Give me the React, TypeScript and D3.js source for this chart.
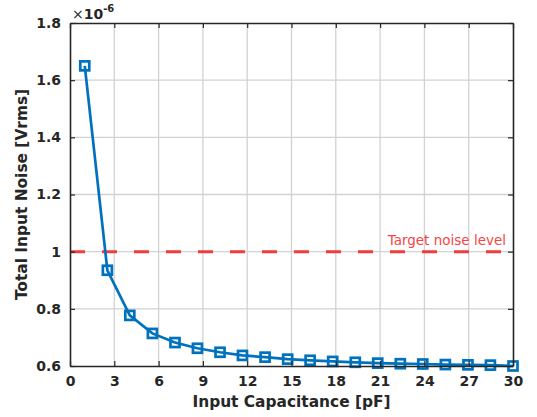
import React, { useEffect, useRef } from "react";
import * as d3 from "d3";

// input capacitance sweep [pF] and measured total input noise [x1e-6 Vrms]
const capacitance = [
  1, 2.53, 4.05, 5.58, 7.11, 8.63, 10.16, 11.68, 13.21, 14.74, 16.26, 17.79,
  19.32, 20.84, 22.37, 23.89, 25.42, 26.95, 28.47, 30,
];
const noise = [
  1.65, 0.935, 0.777, 0.714, 0.682, 0.662, 0.648, 0.637, 0.631, 0.624, 0.62,
  0.616, 0.613, 0.61, 0.608, 0.607, 0.605, 0.604, 0.603, 0.6,
];
const xTicks = [0, 3, 6, 9, 12, 15, 18, 21, 24, 27, 30];
const yTicks = [0.6, 0.8, 1, 1.2, 1.4, 1.6, 1.8];
const targetLevel = 1;
const targetLabel = "Target noise level";

const W = 537;
const H = 417;
const margin = { left: 70, top: 23, right: 24, bottom: 51 };

const App = () => {
  const ref = useRef<SVGSVGElement>(null);

  useEffect(() => {
    const svg = d3.select(ref.current);
    svg.selectAll("*").remove();

    const iw = W - margin.left - margin.right;
    const ih = H - margin.top - margin.bottom;
    const x = d3.scaleLinear().domain([0, 30]).range([0, iw]);
    const y = d3.scaleLinear().domain([0.6, 1.8]).range([ih, 0]);
    const font = "DejaVu Sans, sans-serif";
    const axisColor = "#262626";

    const g = svg
      .append("g")
      .attr("transform", `translate(${margin.left},${margin.top})`);

    // grid
    g.selectAll(".gx")
      .data(xTicks.slice(1, -1))
      .join("line")
      .attr("x1", (d) => x(d))
      .attr("x2", (d) => x(d))
      .attr("y1", 0)
      .attr("y2", ih)
      .attr("stroke", "#d2d2d2")
      .attr("stroke-width", 1.3);
    g.selectAll(".gy")
      .data(yTicks.slice(1, -1))
      .join("line")
      .attr("y1", (d) => y(d))
      .attr("y2", (d) => y(d))
      .attr("x1", 0)
      .attr("x2", iw)
      .attr("stroke", "#d2d2d2")
      .attr("stroke-width", 1.3);

    // target line
    g.append("line")
      .attr("x1", 0)
      .attr("x2", iw)
      .attr("y1", y(targetLevel))
      .attr("y2", y(targetLevel))
      .attr("stroke", "#f03c3c")
      .attr("stroke-width", 3)
      .attr("stroke-dasharray", "15,17");
    g.append("text")
      .attr("x", iw - 7)
      .attr("y", y(targetLevel) - 7)
      .attr("text-anchor", "end")
      .attr("font-family", font)
      .attr("font-size", 13.5)
      .attr("fill", "#f54545")
      .text(targetLabel);

    // data
    const pts = capacitance.map((c, i) => [c, noise[i]] as [number, number]);
    const line = d3
      .line<[number, number]>()
      .x((d) => x(d[0]))
      .y((d) => y(d[1]));
    g.append("path")
      .datum(pts)
      .attr("d", line)
      .attr("fill", "none")
      .attr("stroke", "#0072bd")
      .attr("stroke-width", 2.7);
    g.selectAll(".mk")
      .data(pts)
      .join("rect")
      .attr("x", (d) => x(d[0]) - 4.5)
      .attr("y", (d) => y(d[1]) - 4.5)
      .attr("width", 9)
      .attr("height", 9)
      .attr("fill", "none")
      .attr("stroke", "#0072bd")
      .attr("stroke-width", 2.7);

    // axes (box with inward ticks)
    const tickFmt = (d: d3.NumberValue) => String(+d);
    const bottom = g
      .append("g")
      .attr("transform", `translate(0,${ih})`)
      .call(d3.axisBottom(x).tickValues(xTicks).tickSizeInner(-5).tickSizeOuter(0).tickPadding(10).tickFormat(tickFmt));
    const top = g
      .append("g")
      .call(d3.axisTop(x).tickValues(xTicks).tickSizeInner(-5).tickSizeOuter(0).tickFormat(() => ""));
    const left = g
      .append("g")
      .call(d3.axisLeft(y).tickValues(yTicks).tickSizeInner(-5).tickSizeOuter(0).tickPadding(9).tickFormat(tickFmt));
    const right = g
      .append("g")
      .attr("transform", `translate(${iw},0)`)
      .call(d3.axisRight(y).tickValues(yTicks).tickSizeInner(-5).tickSizeOuter(0).tickFormat(() => ""));

    [bottom, top, left, right].forEach((a) => {
      a.select(".domain").attr("stroke", axisColor).attr("stroke-width", 1.6);
      a.selectAll(".tick line").attr("stroke", axisColor).attr("stroke-width", 1.2);
      a.selectAll("text")
        .attr("font-family", font)
        .attr("font-size", 14)
        .attr("font-weight", "bold")
        .attr("fill", axisColor);
    });

    // exponent
    const ex = svg
      .append("text")
      .attr("x", margin.left + 2)
      .attr("y", margin.top - 4)
      .attr("font-family", font)
      .attr("fill", axisColor);
    ex.append("tspan").attr("font-size", 14).text("×");
    ex.append("tspan").attr("font-size", 14).attr("font-weight", "bold").text("10");
    ex.append("tspan")
      .attr("font-size", 10)
      .attr("font-weight", "bold")
      .attr("dy", -7)
      .text("-6");

    // axis labels
    svg
      .append("text")
      .attr("x", margin.left + iw / 2)
      .attr("y", 407)
      .attr("text-anchor", "middle")
      .attr("font-family", font)
      .attr("font-size", 15.4)
      .attr("font-weight", "bold")
      .attr("fill", axisColor)
      .text("Input Capacitance [pF]");
    svg
      .append("text")
      .attr("transform", `translate(27,${margin.top + ih / 2}) rotate(-90)`)
      .attr("text-anchor", "middle")
      .attr("font-family", font)
      .attr("font-size", 15.4)
      .attr("font-weight", "bold")
      .attr("fill", axisColor)
      .text("Total Input Noise [Vrms]");
  }, []);

  return (
    <svg
      ref={ref}
      width={W}
      height={H}
      style={{ position: "absolute", left: 0, top: 0, background: "#fff" }}
    />
  );
};

export default App;
